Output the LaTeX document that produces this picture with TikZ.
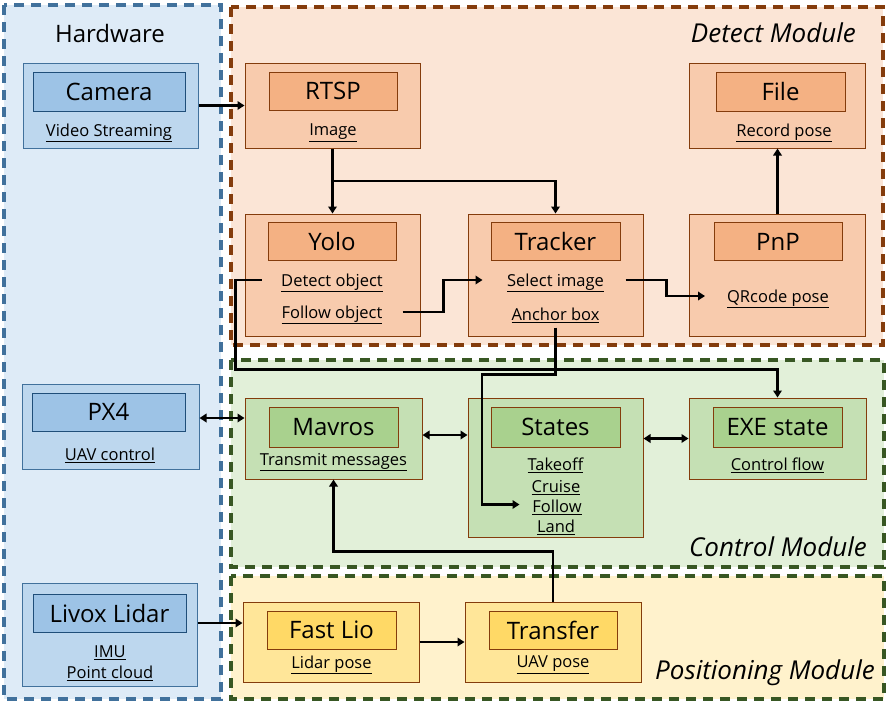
\documentclass[tikz,border=0pt]{standalone}
\usepackage{fontspec}
\setmainfont{Open Sans}
\usetikzlibrary{arrows.meta,calc}
\definecolor{hwfill}{HTML}{DEEBF7}
\definecolor{hwborder}{HTML}{41719C}
\definecolor{hwout}{HTML}{BDD7EE}
\definecolor{hwin}{HTML}{9DC3E6}
\definecolor{hwinb}{HTML}{1F4E79}
\definecolor{detfill}{HTML}{FBE5D6}
\definecolor{detborder}{HTML}{843C0C}
\definecolor{detout}{HTML}{F8CBAD}
\definecolor{detin}{HTML}{F4B183}
\definecolor{ctlfill}{HTML}{E2F0D9}
\definecolor{ctlborder}{HTML}{385723}
\definecolor{ctlout}{HTML}{C5E0B4}
\definecolor{ctlin}{HTML}{A9D18E}
\definecolor{posfill}{HTML}{FFF2CC}
\definecolor{posout}{HTML}{FFE699}
\definecolor{posin}{HTML}{FFD966}
\newcommand{\ttlfont}{\fontsize{24}{27}\selectfont}
\newcommand{\lblfont}{\fontsize{16.5}{19}\selectfont}
\newcommand{\modfont}{\fontsize{26}{29}\selectfont\itshape}
\begin{document}
\begin{tikzpicture}[x=1pt,y=-1pt,
  region/.style={line width=3.4pt, dash pattern=on 10pt off 7pt},
  box/.style 2 args={draw=#2, fill=#1, line width=1pt, inner sep=0pt},
  ttl/.style={font=\ttlfont},
  lbl/.style={font=\lblfont, inner sep=1pt},
  modlbl/.style={font=\modfont, inner sep=0pt},
  arr/.style={line width=2.9pt, -{Triangle[length=7pt,width=8.5pt]}},
  dbl/.style={line width=2.9pt, {Triangle[length=7pt,width=8.5pt]}-{Triangle[length=7pt,width=8.5pt]}},
]
\useasboundingbox (0,0) rectangle (896,710);
\fill[white] (0,0) rectangle (896,710);

% ---------- regions
\fill[hwfill] (4,5) rectangle (221,699);
\draw[region, hwborder] (4,5) rectangle (221,699);
\fill[detfill] (231,7) rectangle (883,345);
\draw[region, detborder] (231,7) rectangle (883,345);
\fill[ctlfill] (231,360) rectangle (884,567);
\draw[region, ctlborder] (231,360) rectangle (884,567);
\fill[posfill] (231,576) rectangle (884,699);
\draw[region, ctlborder] (231,576) rectangle (884,699);

\node[font=\fontsize{24}{27}\selectfont] (hwT) at (110,33) {Hardware};
\node[modlbl, anchor=east] (detT) at (856,33) {Detect Module};
\node[modlbl, anchor=east] (ctlT) at (867,547) {Control Module};
\node[modlbl, anchor=east] (posT) at (875,673) {Positioning Module};

% ---------- hardware
\node[box={hwout}{hwborder}, minimum width=175, minimum height=85] (cam) at (110.5,105.5) {};
\node[box={hwin}{hwinb}, minimum width=152, minimum height=39, ttl] (camT) at (109,91.5) {Camera};
\node[lbl] (camL) at (109,133) {\underline{Video Streaming}};

\node[box={hwout}{hwborder}, minimum width=177, minimum height=85] (px4) at (110.5,426.5) {};
\node[box={hwin}{hwinb}, minimum width=153, minimum height=38, ttl] (px4T) at (108.5,412) {PX4};
\node[lbl] (px4L) at (110,455) {\underline{UAV control}};

\node[box={hwout}{hwborder}, minimum width=175, minimum height=103] (livox) at (109.5,634.5) {};
\node[box={hwin}{hwinb}, minimum width=153, minimum height=38, ttl] (livoxT) at (109.5,613) {Livox Lidar};
\node[lbl] (livoxL1) at (110,653) {\underline{IMU}};
\node[lbl] (livoxL2) at (110,673) {\underline{Point cloud}};

% ---------- detect module
\node[box={detout}{detborder}, minimum width=175, minimum height=85] (rtsp) at (332.5,105.5) {};
\node[box={detin}{detborder}, minimum width=128, minimum height=38, ttl] (rtspT) at (333,91) {RTSP};
\node[lbl] (rtspL) at (333,133) {\underline{Image}};

\node[box={detout}{detborder}, minimum width=175, minimum height=122] (yolo) at (332.5,275) {};
\node[box={detin}{detborder}, minimum width=128, minimum height=38, ttl] (yoloT) at (332,241) {Yolo};
\node[lbl] (detect) at (332,283) {\underline{Detect object}};
\node[lbl] (follow) at (332,315) {\underline{Follow object}};

\node[box={detout}{detborder}, minimum width=175, minimum height=122] (tracker) at (555.5,275) {};
\node[box={detin}{detborder}, minimum width=129, minimum height=38, ttl] (trackerT) at (555.5,241) {Tracker};
\node[lbl] (select) at (555.5,283) {\underline{Select image}};
\node[lbl] (anchor) at (555.5,315) {\underline{Anchor box}};

\node[box={detout}{detborder}, minimum width=176, minimum height=122] (pnp) at (777.5,275) {};
\node[box={detin}{detborder}, minimum width=128, minimum height=38, ttl] (pnpT) at (778,241.5) {PnP};
\node[lbl] (qr) at (778,299) {\underline{QRcode pose}};

\node[box={detout}{detborder}, minimum width=176, minimum height=85] (file) at (777.5,105.5) {};
\node[box={detin}{detborder}, minimum width=129, minimum height=39, ttl] (fileT) at (780.5,91.5) {File};
\node[lbl] (fileL) at (784,133) {\underline{Record pose}};

% ---------- control module
\node[box={ctlout}{detborder}, minimum width=177, minimum height=81] (mavros) at (333.5,438.5) {};
\node[box={ctlin}{detborder}, minimum width=129, minimum height=40, ttl] (mavrosT) at (333.5,427) {Mavros};
\node[lbl] (mavrosL) at (333.5,462) {\underline{Transmit messages}};

\node[box={ctlout}{detborder}, minimum width=175, minimum height=139] (states) at (555.5,467.5) {};
\node[box={ctlin}{detborder}, minimum width=129, minimum height=40, ttl] (statesT) at (555.5,427) {States};
\node[lbl] (takeoff) at (555.5,465.5) {\underline{Takeoff}};
\node[lbl] (cruise) at (556,487.5) {\underline{Cruise}};
\node[lbl] (sfollow) at (557,507.5) {\underline{Follow}};
\node[lbl] (land) at (556,527.5) {\underline{Land}};

\node[box={ctlout}{detborder}, minimum width=177, minimum height=81] (exe) at (777.5,438.5) {};
\node[box={ctlin}{detborder}, minimum width=129, minimum height=40, ttl] (exeT) at (777.5,427) {EXE state};
\node[lbl] (exeL) at (777.5,465) {\underline{Control flow}};

% ---------- positioning module
\node[box={posout}{detborder}, minimum width=176, minimum height=80] (fastlio) at (331,642) {};
\node[box={posin}{detborder}, minimum width=129, minimum height=38, ttl] (fastlioT) at (331.5,630) {Fast Lio};
\node[lbl] (fastlioL) at (331.5,665) {\underline{Lidar pose}};

\node[box={posout}{detborder}, minimum width=176, minimum height=80] (transfer) at (553,642) {};
\node[box={posin}{detborder}, minimum width=128, minimum height=38, ttl] (transferT) at (553,630) {Transfer};
\node[lbl] (transferL) at (553,665) {\underline{UAV pose}};

% ---------- connectors
\draw[arr] (cam.east) -- (rtsp.west);
\draw[arr] (rtsp.south) -- (yolo.north);
\draw[arr] ($(rtsp.south)!0.5!(yolo.north)$) -| (tracker.north);
\draw[arr] ($(yolo.east)+(-18,37)$) -- ++(41,0) |- ($(tracker.west)+(15,5)$);
\draw[arr] ($(tracker.east)+(-18,5)$) -- ++(41,0) |- ($(pnp.west)+(16,21)$);
\draw[arr] (pnp.north) -- (file.south);
\draw[arr] ($(yolo.west)+(17,5)$) -| ($(yolo.south west)+(-9,33)$) -| (exe.north);
\draw[arr] ($(tracker.south)+(0,-9)$) -- ++(0,47) -- ++(-73.5,0) |- ($(states.west)+(52,37)$);
\draw[dbl] ($(px4.east)+(0,-8.5)$) -- ($(mavros.west)+(0,-20.5)$);
\path ($(mavros.east)+(0,-3.5)$) coordinate (mv);
\draw[dbl] (mv) -- (mv -| states.west);
\draw[dbl] (exe.west -| states.east) -- (exe.west);
\draw[arr] (transfer.north) |- ($(mavros.south)+(0,72)$) -- (mavros.south);
\path ($(livox.east)+(0,-11.5)$) coordinate (lv);
\draw[arr] (lv) -- (lv -| fastlio.west);
\draw[arr] (fastlio.east) -- (transfer.west);
\end{tikzpicture}
\end{document}
